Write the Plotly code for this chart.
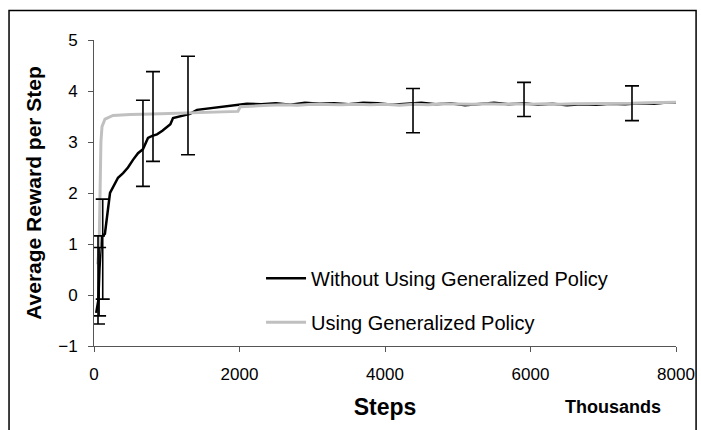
import plotly.graph_objects as go

# ---- data (x in thousands of steps) ----
without_x = [30, 45, 60, 75, 90, 110, 150, 220, 290, 330, 400, 467, 536, 605, 673, 742, 800, 866, 940,
             1003, 1050, 1086, 1223, 1320, 1416, 1636, 1800, 1979,
             2100, 2300, 2500, 2700, 2900, 3100, 3300, 3500, 3700, 3900, 4100, 4300, 4500, 4700,
             4900, 5100, 5300, 5500, 5700, 5900, 6100, 6300, 6500, 6700, 6900, 7100, 7300, 7500,
             7700, 7900, 8000]
without_y = [-0.35, -0.2, -0.1, 0.5, 0.9, 1.15, 1.2, 2.0, 2.2, 2.3, 2.39, 2.5, 2.65, 2.78, 2.86, 3.08, 3.12, 3.15, 3.22,
             3.29, 3.35, 3.47, 3.51, 3.55, 3.63, 3.67, 3.70, 3.74,
             3.75, 3.74, 3.76, 3.73, 3.77, 3.75, 3.76, 3.74, 3.77, 3.76, 3.73, 3.75, 3.77, 3.74,
             3.76, 3.72, 3.75, 3.77, 3.74, 3.76, 3.73, 3.75, 3.72, 3.74, 3.73, 3.75, 3.74, 3.76,
             3.75, 3.78, 3.77]

using_x = [50, 70, 82, 95, 110, 151, 261, 500, 800, 1000, 1300, 1600, 1900, 1979, 2010,
           2200, 2400, 2600, 2800, 3000, 3200, 3400, 3600, 3800, 4000, 4200, 4400, 4600, 4800,
           5000, 5200, 5400, 5600, 5800, 6000, 6200, 6400, 6600, 6800, 7000, 7200, 7400, 7600,
           7800, 8000]
using_y = [0.6, 0.9, 1.9, 3.0, 3.3, 3.45, 3.52, 3.54, 3.55, 3.56, 3.57, 3.58, 3.6, 3.6, 3.69,
           3.71, 3.72, 3.73, 3.72, 3.74, 3.73, 3.73, 3.74, 3.73, 3.74, 3.72, 3.74, 3.73, 3.75,
           3.74, 3.74, 3.75, 3.74, 3.75, 3.74, 3.75, 3.74, 3.75, 3.75, 3.76, 3.76, 3.76, 3.77,
           3.78, 3.78]

err_x = [55, 70, 120, 673, 811, 1292, 4385, 5911, 7395]
err_low = [-0.57, -0.41, -0.08, 2.13, 2.62, 2.75, 3.18, 3.50, 3.42]
err_high = [1.16, 0.93, 1.88, 3.82, 4.38, 4.68, 4.05, 4.17, 4.10]

x_ticks = [0, 2000, 4000, 6000, 8000]
y_ticks = [-1, 0, 1, 2, 3, 4, 5]

FONT = "Liberation Sans, Arial, sans-serif"

err_mid = [(lo + hi) / 2 for lo, hi in zip(err_low, err_high)]
err_half = [(hi - lo) / 2 for lo, hi in zip(err_low, err_high)]

fig = go.Figure()
fig.add_trace(go.Scatter(x=without_x, y=without_y, mode="lines",
                         name="Without Using Generalized Policy",
                         line=dict(color="#000000", width=2.5), legendgroup="a"))
fig.add_trace(go.Scatter(x=using_x, y=using_y, mode="lines",
                         name="Using Generalized Policy",
                         line=dict(color="#c0c0c0", width=3), legendgroup="b"))
fig.add_trace(go.Scatter(x=err_x, y=err_mid, mode="markers", showlegend=False,
                         marker=dict(size=1, color="rgba(0,0,0,0)"),
                         error_y=dict(type="data", array=err_half, symmetric=True,
                                      color="#000000", thickness=1.6, width=7)))

fig.update_layout(
    width=701, height=430,
    margin=dict(l=94, r=25, t=40, b=84),
    paper_bgcolor="white", plot_bgcolor="white",
    font=dict(family=FONT, color="#000000"),
    showlegend=True,
    legend=dict(x=0.287, y=0.285, xanchor="left", yanchor="top",
                font=dict(size=20, family=FONT), bgcolor="rgba(0,0,0,0)",
                tracegroupgap=15, itemwidth=40),
    xaxis=dict(range=[0, 8000], tickvals=x_ticks, ticktext=[str(v) for v in x_ticks],
               showgrid=False, zeroline=False, showline=True, linecolor="#555555", linewidth=1,
               ticks="outside", ticklen=5, tickcolor="#555555",
               tickfont=dict(size=17, family=FONT), ticklabelstandoff=8,
               title=dict(text="<b>Steps</b>", font=dict(size=23, family=FONT), standoff=15),
               automargin=False),
    yaxis=dict(range=[-1, 5], tickvals=y_ticks, showgrid=False, zeroline=False,
               showline=True, linecolor="#555555", linewidth=1,
               ticks="outside", ticklen=5, tickcolor="#555555",
               tickfont=dict(size=17, family=FONT), ticklabelstandoff=7,
               title=dict(text="<b>Average Reward per Step</b>", font=dict(size=21, family=FONT),
                          standoff=10),
               automargin=False),
    shapes=[dict(type="rect", xref="paper", yref="paper",
                 x0=-0.146, x1=1.0345, y0=-0.35, y1=1.0964,
                 line=dict(color="#000000", width=1.5), fillcolor="rgba(0,0,0,0)", layer="below")],
    annotations=[dict(text="<b>Thousands</b>", xref="paper", yref="paper",
                      x=0.891, y=-0.2, xanchor="center", yanchor="middle", showarrow=False,
                      font=dict(size=18, family=FONT))],
)

fig.write_html("out.html", config={"displayModeBar": False},
               post_script="document.body.style.margin='0';document.body.style.overflow='hidden';")
